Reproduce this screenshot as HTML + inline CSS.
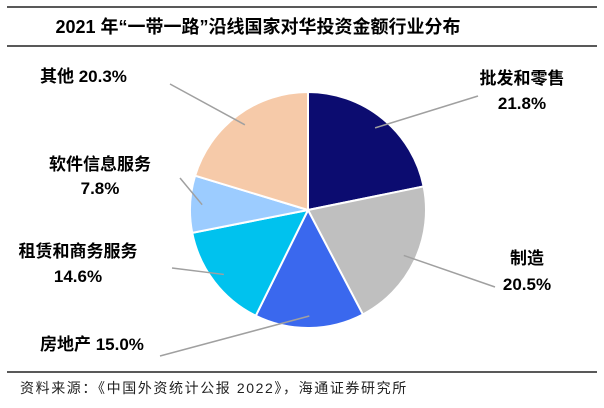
<!DOCTYPE html>
<html><head><meta charset="utf-8"><style>
body{margin:0;background:#fff;}
svg text{font-family:"Liberation Sans","Noto Sans CJK SC",sans-serif;}
</style></head><body>
<svg width="604" height="403">
<line x1="7" y1="7" x2="597" y2="7" stroke="#222" stroke-width="1.5"/>
<text x="258" y="33" text-anchor="middle" font-size="18" font-weight="bold" fill="#000">2021 年“一带一路”沿线国家对华投资金额行业分布</text>
<line x1="7" y1="46" x2="597" y2="46" stroke="#222" stroke-width="1.5"/>
<g id="pie"></g>
<g id="labels"></g>
<line x1="7" y1="372" x2="597" y2="372" stroke="#222" stroke-width="1.5"/>
<text x="20" y="393" font-size="14" letter-spacing="1.6" fill="#222">资料来源：《中国外资统计公报 2022》，海通证券研究所</text>
</svg>
<script>
const categories=["批发和零售","制造","房地产","租赁和商务服务","软件信息服务","其他"];
const values=[21.8,20.5,15.0,14.6,7.8,20.3];
const colors=["#0c0c70","#bfbfbf","#3a68ee","#00c2ee","#9cccff","#f6caa9"];
const ns="http://www.w3.org/2000/svg";
const cx=308,cy=210,r=118;
const total=values.reduce((a,b)=>a+b,0);
const pie=document.getElementById('pie');
let a0=-Math.PI/2;
const mids=[];
values.forEach((v,i)=>{
  const a1=a0+v/total*2*Math.PI;
  const x0=cx+r*Math.cos(a0),y0=cy+r*Math.sin(a0),x1=cx+r*Math.cos(a1),y1=cy+r*Math.sin(a1);
  const p=document.createElementNS(ns,'path');
  p.setAttribute('d',`M${cx},${cy}L${x0},${y0}A${r},${r} 0 ${(a1-a0)>Math.PI?1:0} 1 ${x1},${y1}Z`);
  p.setAttribute('fill',colors[i]);p.setAttribute('stroke','#fff');p.setAttribute('stroke-width','2');
  
  
  pie.appendChild(p);
  mids.push((a0+a1)/2);
  a0=a1;
});
const pos=[[522,84,109,"middle",478,96],[527,264,290,"middle",495,287],[40,350,null,"start",160,356],[78,257,282,"middle",172,268],[100,170,194,"middle",180,178],[40,82,null,"start",170,84]];
const lg=document.getElementById('labels');
values.forEach((v,i)=>{
  const m=mids[i],ex=cx+(r-12)*Math.cos(m),ey=cy+(r-12)*Math.sin(m);
  const ln=document.createElementNS(ns,'polyline');
  ln.setAttribute('points',`${ex},${ey} ${pos[i][4]},${pos[i][5]}`);
  ln.setAttribute('fill','none');ln.setAttribute('stroke','#a0a0a0');ln.setAttribute('stroke-width','1.5');
  
  
  lg.appendChild(ln);
  const t=document.createElementNS(ns,'text');
  t.setAttribute('font-size','17');t.setAttribute('font-weight','bold');t.setAttribute('text-anchor',pos[i][3]);
  
  
  if(pos[i][2]===null){
    t.setAttribute('x',pos[i][0]);t.setAttribute('y',pos[i][1]);
    t.textContent=categories[i]+" "+v.toFixed(1)+"%";
  } else {
    const s1=document.createElementNS(ns,'tspan');s1.setAttribute('x',pos[i][0]);s1.setAttribute('y',pos[i][1]);s1.textContent=categories[i];
    const s2=document.createElementNS(ns,'tspan');s2.setAttribute('x',pos[i][0]);s2.setAttribute('y',pos[i][2]);s2.textContent=v.toFixed(1)+"%";
    t.appendChild(s1);t.appendChild(s2);
  }
  lg.appendChild(t);
});
</script>
</body></html>
